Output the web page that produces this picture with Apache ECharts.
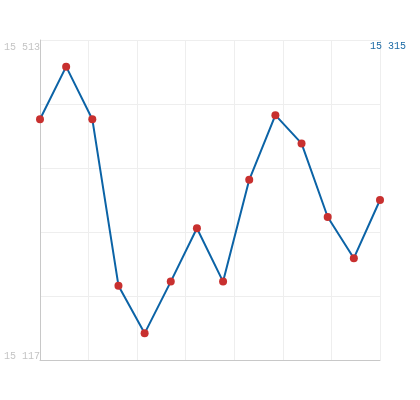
<!DOCTYPE html>
<html>
<head>
<meta charset="utf-8">
<script src="https://cdn.jsdelivr.net/npm/echarts@6/dist/echarts.min.js"></script>
<style>html,body{margin:0;padding:0;background:#fff}#c{width:420px;height:400px}</style>
</head>
<body>
<div id="c"></div>
<script>
var categories = ['1','2','3','4','5','6','7','8','9','10','11','12','13','14'];
var values = [15415, 15480, 15415, 15209, 15150, 15214, 15280, 15214, 15340, 15420, 15385, 15294, 15243, 15315];
var yMin = 15117;
var yMax = 15513;

function fmt(v){ return String(Math.round(v)).replace(/\B(?=(\d{3})+(?!\d))/g, ' '); }

var font = 'Liberation Mono';
var chart = echarts.init(document.getElementById('c'));
chart.setOption({
  animation: false,
  backgroundColor: '#fff',
  title: {
    text: fmt(values[values.length - 1]),
    right: 14, top: 41, padding: 0,
    textStyle: { fontFamily: font, fontSize: 10, fontWeight: 'normal', color: '#1b6aa5' }
  },
  grid: { left: 40, right: 40, top: 40, bottom: 40 },
  xAxis: [{
    type: 'category', data: categories, boundaryGap: false,
    axisLine: { lineStyle: { color: '#c8c8c8', width: 1 } },
    axisTick: { show: false }, axisLabel: { show: false }, splitLine: { show: false }
  }, {
    type: 'value', min: 0, max: 7, interval: 1, position: 'bottom',
    axisLine: { show: false }, axisTick: { show: false }, axisLabel: { show: false },
    splitLine: { show: true, lineStyle: { color: '#eeeeee', width: 1 } }
  }],
  yAxis: [{
    type: 'value', min: yMin, max: yMax, interval: yMax - yMin,
    axisLine: { show: true, lineStyle: { color: '#c8c8c8', width: 1 } },
    axisTick: { show: false }, splitLine: { show: false },
    axisLabel: {
      margin: 0,
      formatter: function (v) { return v === yMax ? '{t|' + fmt(v) + '}' : '{b|' + fmt(v) + '}'; },
      rich: {
        t: { fontFamily: font, fontSize: 10, color: '#c4c4c4', padding: [14, 0, 0, 0] },
        b: { fontFamily: font, fontSize: 10, color: '#c4c4c4', padding: [0, 0, 8, 0] }
      }
    }
  }, {
    type: 'value', min: 0, max: 5, interval: 1, position: 'left',
    axisLine: { show: false }, axisTick: { show: false }, axisLabel: { show: false },
    splitLine: { show: true, lineStyle: { color: '#eeeeee', width: 1 } }
  }],
  series: [{
    type: 'line', data: values, xAxisIndex: 0, yAxisIndex: 0,
    symbol: 'circle', symbolSize: 8,
    lineStyle: { color: '#0b63a6', width: 2 },
    itemStyle: { color: '#c8302f', borderWidth: 0 },
    z: 5
  }]
});
</script>
</body>
</html>
